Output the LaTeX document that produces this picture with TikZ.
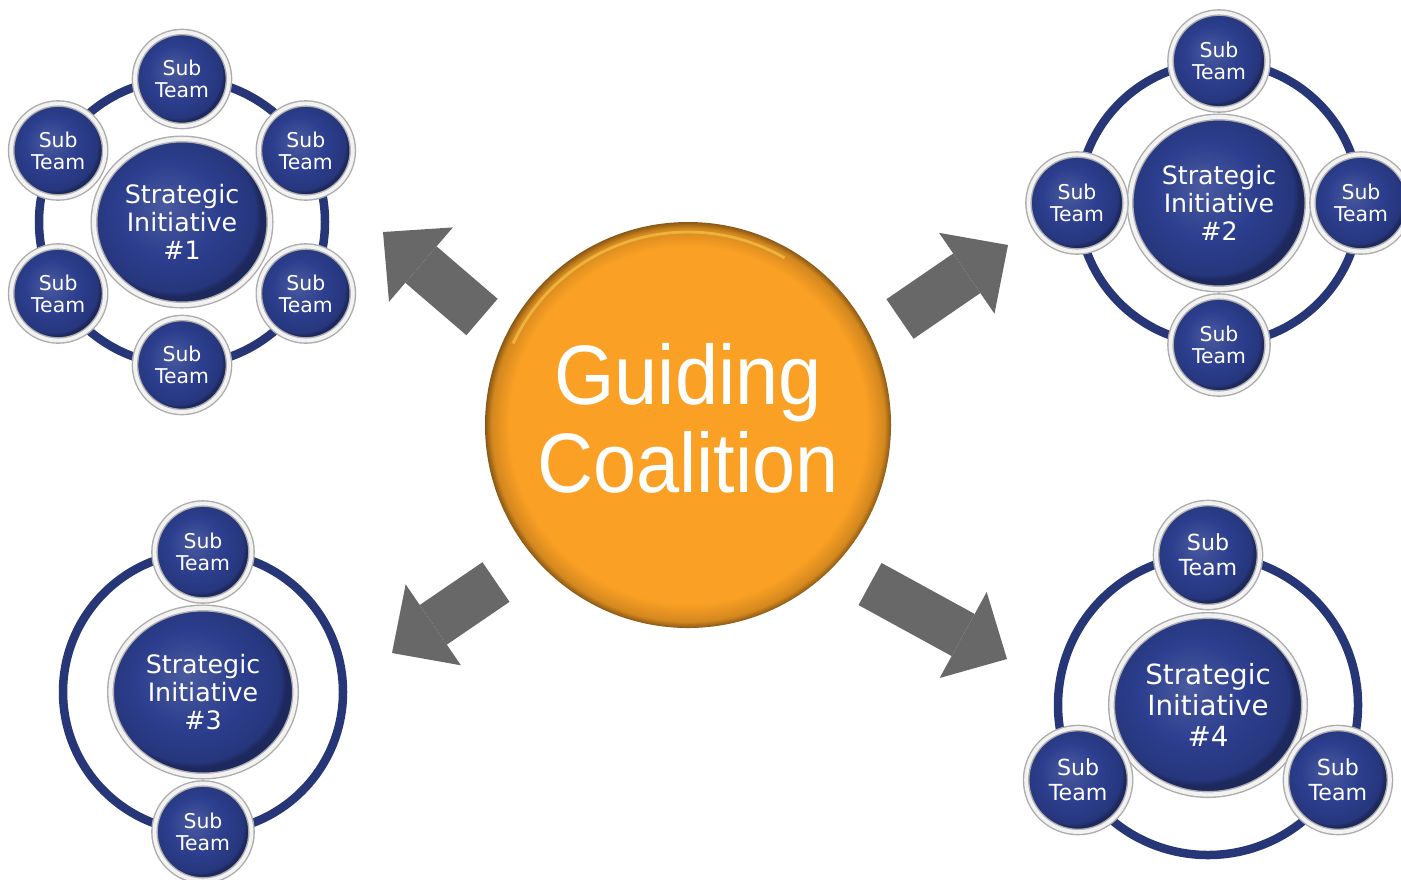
\documentclass[tikz,border=0pt]{standalone}
\usepackage{fontspec}
\usepackage{tikz}
\usetikzlibrary{arrows.meta, positioning, calc, shapes.geometric}
\newfontfamily\teamfont{DejaVu Sans}
\newfontfamily\coalfont[FakeStretch=0.92]{Liberation Sans}
\definecolor{siblue}{RGB}{44,62,142}
\definecolor{ringblue}{RGB}{38,54,118}
\definecolor{gcorange}{RGB}{250,160,36}
\definecolor{arrowgray}{RGB}{104,104,104}
\pgfdeclareradialshading{bluebutton}{\pgfpoint{-5bp}{5bp}}{color(0bp)=(siblue!85!white);
  color(14bp)=(siblue); color(23.5bp)=(siblue!88!black); color(25bp)=(siblue!65!black);
  color(50bp)=(siblue!65!black)}
\pgfdeclareradialshading{orangebutton}{\pgfpoint{0bp}{0bp}}{color(0bp)=(gcorange);
  color(22bp)=(gcorange); color(24.2bp)=(gcorange!85!black); color(25bp)=(gcorange!55!black);
  color(50bp)=(gcorange!55!black)}

\begin{document}
\begin{tikzpicture}[
    subteam/.style={circle,minimum size=0.94cm,inner sep=0pt,shading=bluebutton,
      draw=gray!65,double=gray!10,double distance=1.1pt,line width=0.4pt,
      text=white,align=center,font=\teamfont\fontsize{5.8}{6.3}\selectfont},
    initiative/.style={ellipse,inner sep=0pt,shading=bluebutton,
      draw=gray!65,double=gray!10,double distance=1.2pt,line width=0.4pt,
      text=white,align=center,font=\teamfont\fontsize{7.2}{8}\selectfont},
    ring/.style={draw=ringblue,line width=0.085cm},
    push/.style={draw=arrowgray,line width=0.48cm,
      -{Triangle[width=0.98cm,length=0.5cm,line width=0pt,fill=arrowgray]}}]
  \useasboundingbox (0,0) rectangle (14.01,8.79);

  % guiding coalition
  \node[circle,minimum size=4.06cm,inner sep=0pt,shading=orangebutton,
    text=white,align=center,font=\coalfont\fontsize{24}{25}\selectfont]
    (gc) at (6.88,4.54) {Guiding\\Coalition\rule[-4pt]{0pt}{1pt}};
  \draw[gcorange!55!yellow!70!white,line width=0.8pt,opacity=.5]
    ($(gc)+(155:1.93)$) arc[start angle=155,end angle=60,radius=1.93];

  % arrows out to the initiatives
  \coordinate (p1) at (4.82,5.62);  \coordinate (q1) at (3.83,6.47);
  \coordinate (p2) at (9.00,5.60);  \coordinate (q2) at (10.08,6.34);
  \coordinate (p3) at (4.96,2.97);  \coordinate (q3) at (3.92,2.26);
  \coordinate (p4) at (8.70,2.95);  \coordinate (q4) at (10.07,2.20);
  \foreach \i in {1,...,4}
    \draw[push] (p\i) -- (q\i);

  % initiative #1
  \node[initiative,minimum width=1.76cm,minimum height=1.66cm] (si1) at (1.82,6.57)
    {Strategic\\Initiative\\\#1};
  \draw[ring] (si1) circle[radius=1.43];
  \foreach \a [count=\i] in {90,30,-30,-90,-150,150}
    \node[subteam] (t1\i) at ($(si1)+(\a:1.43)$) {Sub\\Team};

  % initiative #2
  \node[initiative,minimum width=1.78cm,minimum height=1.72cm] (si2) at (12.19,6.76)
    {Strategic\\Initiative\\\#2};
  \draw[ring] (si2) circle[radius=1.41];
  \foreach \a [count=\i] in {90,0,-90,180}
    \node[subteam,minimum size=0.97cm] (t2\i) at ($(si2)+(\a:1.42)$) {Sub\\Team};

  % initiative #3
  \node[initiative,minimum width=1.85cm,minimum height=1.68cm] (si3) at (2.03,1.87)
    {Strategic\\Initiative\\\#3};
  \draw[ring] (si3) circle[radius=1.40];
  \foreach \a [count=\i] in {90,-90}
    \node[subteam,minimum size=0.97cm] (t3\i) at ($(si3)+(\a:1.40)$) {Sub\\Team};

  % initiative #4
  \node[initiative,minimum width=1.93cm,minimum height=1.79cm,
    font=\teamfont\fontsize{7.9}{8.8}\selectfont] (si4) at (12.08,1.74)
    {Strategic\\Initiative\\\#4};
  \draw[ring] (si4) circle[radius=1.50];
  \foreach \a [count=\i] in {90,-30,-150}
    \node[subteam,minimum size=1.04cm,font=\teamfont\fontsize{6.3}{7}\selectfont]
      (t4\i) at ($(si4)+(\a:1.50)$) {Sub\\Team};
\end{tikzpicture}
\end{document}
